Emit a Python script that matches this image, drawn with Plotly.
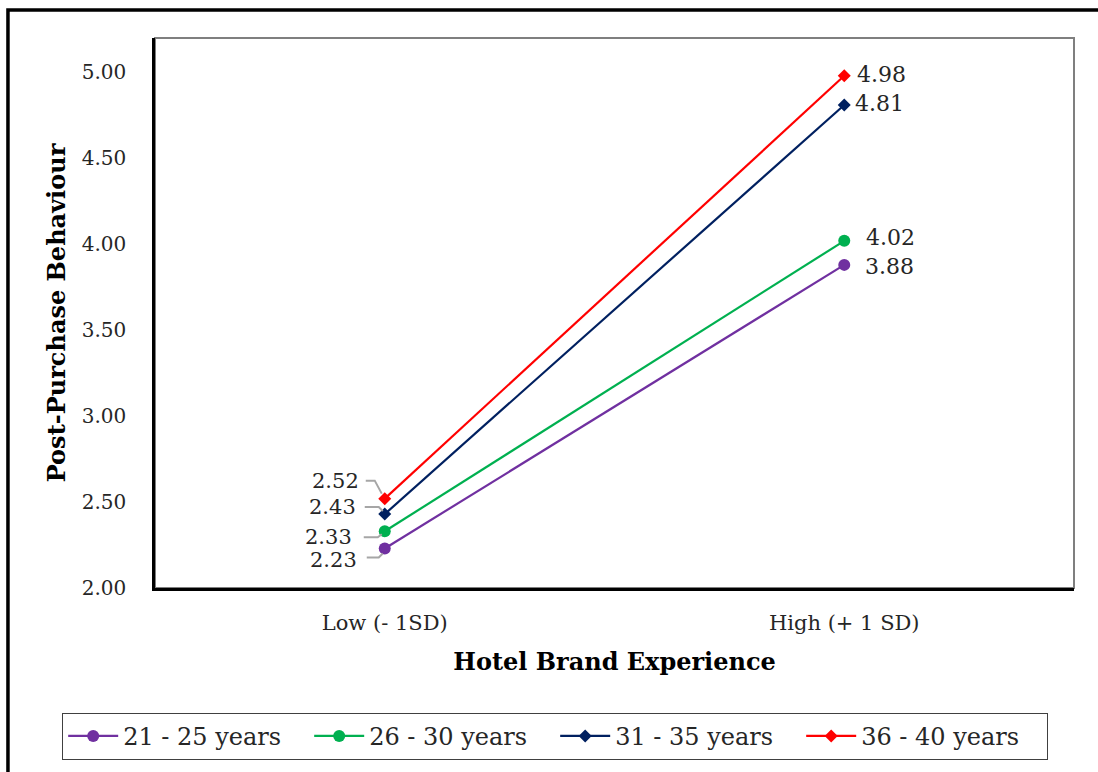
import plotly.graph_objects as go

# Simple-slopes data: post-purchase behaviour at low / high hotel brand experience
categories = ["Low (- 1SD)", "High (+ 1 SD)"]
series_names = ["21 - 25 years", "26 - 30 years", "31 - 35 years", "36 - 40 years"]
age_21_25 = [2.23, 3.88]
age_26_30 = [2.33, 4.02]
age_31_35 = [2.43, 4.81]
age_36_40 = [2.52, 4.98]
y_ticks = [2.0, 2.5, 3.0, 3.5, 4.0, 4.5, 5.0]

FONT = "DejaVu Serif"
series_values = [age_21_25, age_26_30, age_31_35, age_36_40]
colors = ["#7030A0", "#00B050", "#002060", "#FF0000"]
symbols = ["circle", "circle", "diamond", "diamond"]
sizes = [12, 12, 10, 10]

fig = go.Figure()
for name, vals, col, sym, sz in zip(series_names, series_values, colors, symbols, sizes):
    fig.add_trace(go.Scatter(
        x=categories, y=vals, name=name, mode="lines+markers",
        line=dict(color=col, width=2.2),
        marker=dict(symbol=sym, size=sz, color=col),
        cliponaxis=False,
    ))

# value labels: offsets (px) from each point
low_offsets = [(-26, -12), (-31, -6), (-27, 7), (-24, 18)]
high_offsets = [(19, -2), (20, 3), (9, 2), (11, 1)]
# elbow leader lines for the low-end labels, pixel paths relative to the point
leaders = [
    "M -18,-9 L -6,-9 L -2,-5",
    "M -21,-6 L -7,-6 L -3,-3",
    "M -20,7 L -6,7 L -2,3",
    "M -19,18 L -10,18 L -3,5",
]

annotations = []
shapes = []
for i, vals in enumerate(series_values):
    dx, dy = low_offsets[i]
    annotations.append(dict(
        x=0, y=vals[0], xref="x", yref="y", text=f"{vals[0]:.2f}",
        showarrow=False, xanchor="right", yanchor="middle",
        xshift=dx, yshift=dy, font=dict(family=FONT, size=21, color="#262626"),
    ))
    dx, dy = high_offsets[i]
    annotations.append(dict(
        x=1, y=vals[1], xref="x", yref="y", text=f"{vals[1]:.2f}",
        showarrow=False, xanchor="left", yanchor="middle",
        xshift=dx, yshift=dy, font=dict(family=FONT, size=22, color="#262626"),
    ))
    shapes.append(dict(
        type="path", xref="x", yref="y", xsizemode="pixel", ysizemode="pixel",
        xanchor=0, yanchor=vals[0], path=leaders[i],
        line=dict(color="#A6A6A6", width=2), layer="above",
    ))

# gray frame on top/right of the plot area
shapes.append(dict(type="rect", xref="paper", yref="paper", x0=0, x1=1, y0=0, y1=1,
                   line=dict(color="#7F7F7F", width=2), layer="below"))
# outer chart border (left and top edges)
shapes.append(dict(type="path", xref="paper", yref="paper",
                   path="M -0.16,-0.5 L -0.16,1.051 L 1.2,1.051",
                   line=dict(color="black", width=3.5)))

fig.update_layout(
    width=1098, height=772,
    margin=dict(l=155, r=24, t=38, b=184, autoexpand=False),
    paper_bgcolor="white", plot_bgcolor="white",
    font=dict(family=FONT, color="#262626"),
    showlegend=True,
    legend=dict(
        orientation="h", x=-0.101, xanchor="left", y=-0.227, yanchor="top",
        bordercolor="#404040", borderwidth=1, font=dict(family=FONT, size=24, color="#262626"),
        itemwidth=50, entrywidth=181, entrywidthmode="pixels", traceorder="normal",
    ),
    annotations=annotations,
    shapes=shapes,
)
fig.update_xaxes(
    type="category", range=[-0.5, 1.5],
    showline=True, linecolor="black", linewidth=2.5, mirror=False,
    showgrid=False, ticks="", ticklabelstandoff=14,
    tickfont=dict(family=FONT, size=21, color="#262626"),
    title=dict(text="<b>Hotel Brand Experience</b>", font=dict(family=FONT, size=24, color="black"), standoff=20),
)
fig.update_yaxes(
    range=[2.0, 5.2], tickvals=y_ticks, tickformat=".2f",
    showline=True, linecolor="black", linewidth=2.5, mirror=False,
    showgrid=False, zeroline=False, ticks="", ticklabelstandoff=22,
    tickfont=dict(family=FONT, size=20, color="#262626"),
    title=dict(text="<b>Post-Purchase Behaviour</b>", font=dict(family=FONT, size=24, color="black"), standoff=10),
)

fig.write_html("out.html")
